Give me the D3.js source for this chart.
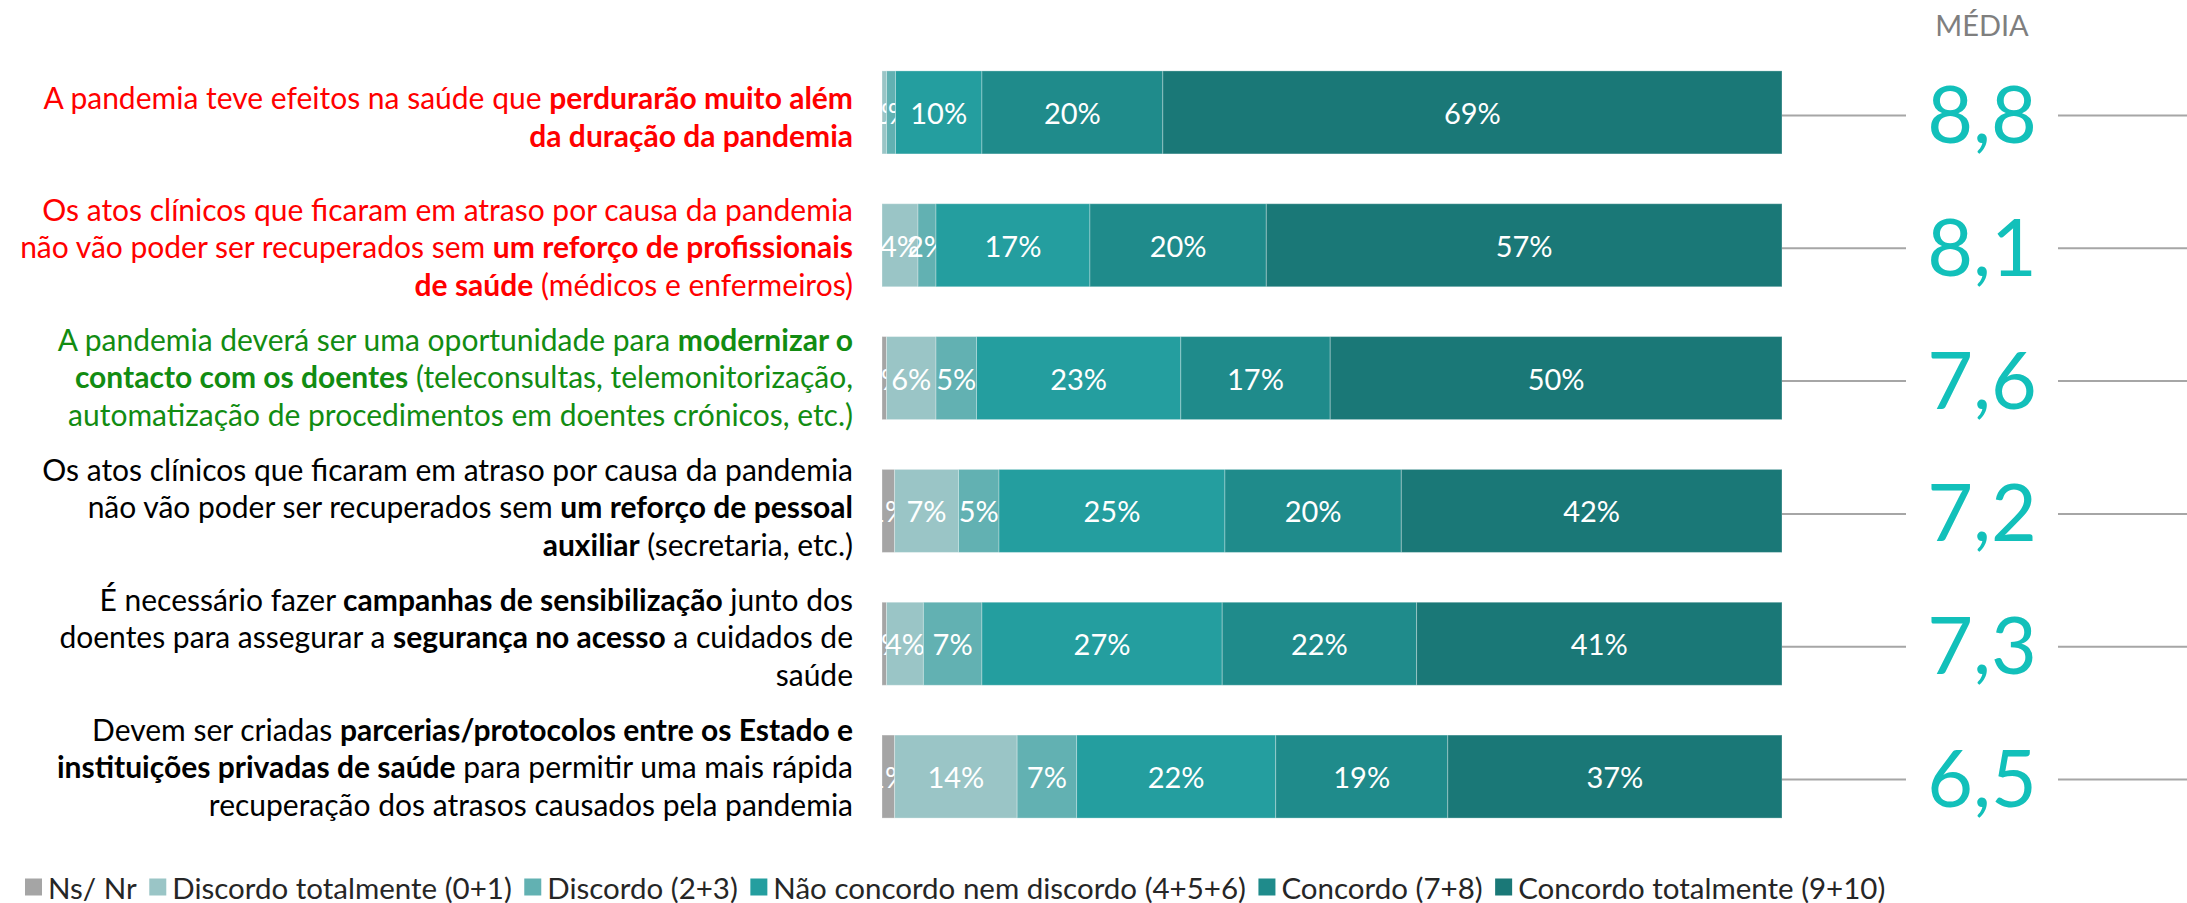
<!DOCTYPE html>
<html>
<head>
<meta charset="utf-8">
<script src="https://cdn.jsdelivr.net/npm/d3@7"></script>
<style>
  body { margin: 0; background: #fff; }
  svg { display: block; }
  text { font-family: Lato, "Open Sans", sans-serif; }
</style>
</head>
<body>
<svg id="chart" width="2187" height="903"></svg>
<script>
// answer categories (legend order = stack order)
const categories = ["Ns/ Nr", "Discordo totalmente (0+1)", "Discordo (2+3)",
  "Não concordo nem discordo (4+5+6)", "Concordo (7+8)", "Concordo totalmente (9+10)"];
const colors = ["#A5A5A5", "#9AC5C6", "#62B1B2", "#249E9F", "#1F8B8B", "#1A7877"];

// statements, one entry per line, **...** = bold
const statements = [
  ["A pandemia teve efeitos na saúde que **perdurarão muito além**",
   "**da duração da pandemia**"],
  ["Os atos clínicos que ficaram em atraso por causa da pandemia",
   "não vão poder ser recuperados sem **um reforço de profissionais**",
   "**de saúde** (médicos e enfermeiros)"],
  ["A pandemia deverá ser uma oportunidade para **modernizar o**",
   "**contacto com os doentes** (teleconsultas, telemonitorização,",
   "automatização de procedimentos em doentes crónicos, etc.)"],
  ["Os atos clínicos que ficaram em atraso por causa da pandemia",
   "não vão poder ser recuperados sem **um reforço de pessoal**",
   "**auxiliar** (secretaria, etc.)"],
  ["É necessário fazer **campanhas de sensibilização** junto dos",
   "doentes para assegurar a **segurança no acesso** a cuidados de",
   "saúde"],
  ["Devem ser criadas **parcerias/protocolos entre os Estado e**",
   "**instituições privadas de saúde** para permitir uma mais rápida",
   "recuperação dos atrasos causados pela pandemia"]
];
const statementColors = ["#FF0000", "#FF0000", "#128C12", "#000000", "#000000", "#000000"];

// % per category for each statement
const shares = [
  [0.0, 0.5, 1.0, 9.6, 20.1, 68.8],
  [0.0, 4.0, 2.0, 17.1, 19.6, 57.3],
  [0.5, 5.5, 4.5, 22.7, 16.6, 50.2],
  [1.4, 7.1, 4.5, 25.1, 19.6, 42.3],
  [0.5, 4.1, 6.5, 26.7, 21.6, 40.6],
  [1.4, 13.6, 6.6, 22.1, 19.1, 37.1]
];
const means = [8.8, 8.1, 7.6, 7.2, 7.3, 6.5];

const svg = d3.select("#chart");
const W = 2187;

const rows = shares.map((s, i) => {
  const o = { id: i };
  s.forEach((v, k) => o[k] = v);
  return o;
});

const series = d3.stack()
  .keys(d3.range(categories.length))
  .offset(d3.stackOffsetExpand)(rows);

const x = d3.scaleLinear().domain([0, 1]).range([882, 1782]);
const y = d3.scaleBand().domain(d3.range(rows.length)).range([46, 843])
  .paddingInner(0.375).paddingOuter(0.1875);
// statement text boxes sit on a slightly tighter grid than the bars
const yLabel = d3.scalePoint().domain(d3.range(rows.length)).range([116, 766]);

// bars
const layer = svg.append("g").selectAll("g")
  .data(series).join("g")
  .attr("fill", d => colors[d.key]);

layer.selectAll("rect")
  .data(d => d.map((p, i) => ({ p, i, key: d.key })))
  .join("rect")
  .attr("x", d => x(d.p[0]))
  .attr("y", d => y(d.i))
  .attr("width", d => Math.max(0, x(d.p[1]) - x(d.p[0])))
  .attr("height", y.bandwidth())
  .attr("stroke", "rgba(255,255,255,0.3)")
  .attr("stroke-width", 1);

// value labels
layer.selectAll("text")
  .data(d => d.map((p, i) => ({ p, i, v: shares[i][d.key] })).filter(d => d.v > 0))
  .join("text")
  .attr("x", d => (x(d.p[0]) + x(d.p[1])) / 2)
  .attr("y", d => y(d.i) + y.bandwidth() / 2)
  .attr("text-anchor", "middle")
  .attr("dominant-baseline", "central")
  .attr("fill", "#fff")
  .attr("font-size", 29)
  .text(d => Math.round(d.v) + "%");

// statement labels
const lh = 37.5;
statements.forEach((lines, i) => {
  const cy = yLabel(i);
  const t = svg.append("text")
    .attr("text-anchor", "end")
    .attr("font-size", 30)
    .attr("fill", statementColors[i]);
  lines.forEach((line, j) => {
    const ln = t.append("tspan")
      .attr("x", 853)
      .attr("y", cy + (j - (lines.length - 1) / 2) * lh)
      .attr("dominant-baseline", "central");
    line.split("**").forEach((part, k) => {
      if (!part) return;
      ln.append("tspan")
        .attr("font-weight", k % 2 ? "bold" : "normal")
        .text(part);
    });
  });
});

// means
const pt = d3.formatLocale({ decimal: ",", thousands: ".", grouping: [3], currency: ["", ""] });
const fmt = pt.format(".1f");
const mx = 1982, gap = 76;

svg.append("text")
  .attr("x", mx).attr("y", 36)
  .attr("text-anchor", "middle")
  .attr("font-size", 29)
  .attr("fill", "#7F7F7F")
  .text("MÉDIA");

const mg = svg.append("g").selectAll("g").data(means).join("g")
  .attr("transform", (d, i) => `translate(0,${y(i) + y.bandwidth() / 2})`);

mg.append("line")
  .attr("x1", x(1)).attr("x2", mx - gap)
  .attr("y1", 3).attr("y2", 3)
  .attr("stroke", "#A6A6A6").attr("stroke-width", 2);
mg.append("line")
  .attr("x1", mx + gap).attr("x2", W)
  .attr("y1", 3).attr("y2", 3)
  .attr("stroke", "#A6A6A6").attr("stroke-width", 2);
mg.append("text")
  .attr("x", mx)
  .attr("text-anchor", "middle")
  .attr("dominant-baseline", "central")
  .attr("font-size", 79)
  .attr("fill", "#12C0BA")
  .text(d => fmt(d));

// legend
const legend = svg.append("g").attr("transform", "translate(25,887)");
let lx = 0;
categories.forEach((c, k) => {
  const g = legend.append("g").attr("transform", `translate(${lx},0)`);
  g.append("rect").attr("x", 0).attr("y", -8.5).attr("width", 17).attr("height", 17)
    .attr("fill", colors[k]);
  const t = g.append("text").attr("x", 23).attr("dominant-baseline", "central")
    .attr("font-size", 29.5).attr("fill", "#262626").text(c);
  lx += 23 + t.node().getComputedTextLength() + 12.5;
});
</script>
</body>
</html>
